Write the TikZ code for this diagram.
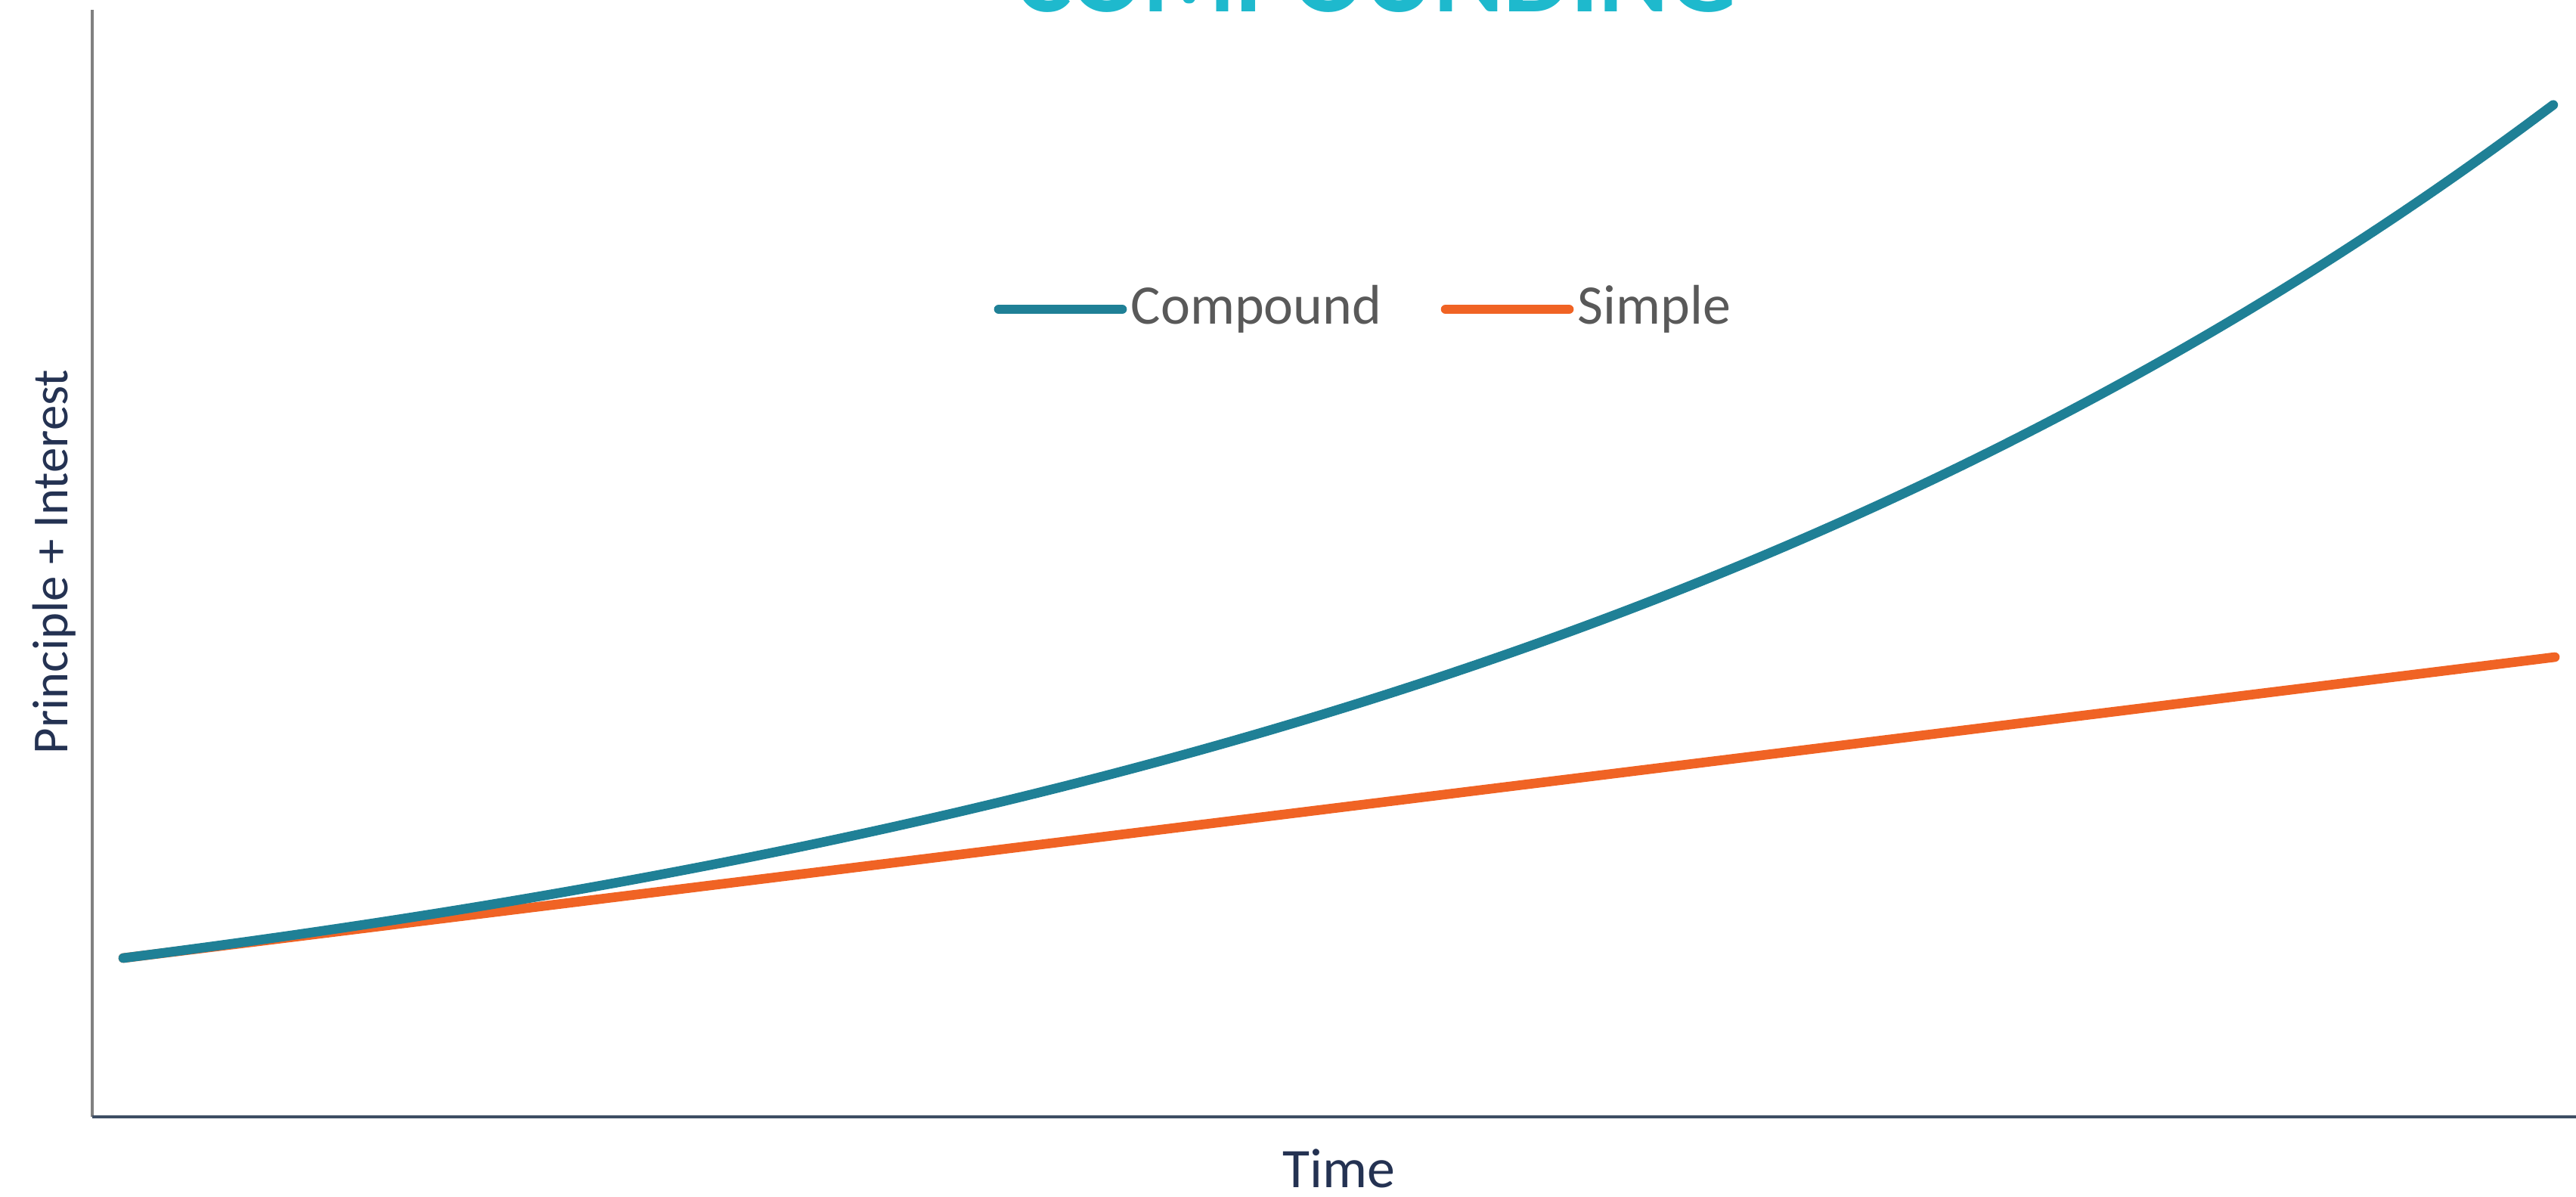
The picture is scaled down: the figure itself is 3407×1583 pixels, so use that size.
\documentclass[tikz,border=0pt]{standalone}
\usepackage{fontspec}
\setmainfont{Carlito}
\definecolor{compteal}{RGB}{31,128,150}
\definecolor{simporange}{RGB}{240,99,36}
\definecolor{titlecyan}{RGB}{30,185,205}
\definecolor{axisgray}{RGB}{128,128,128}
\definecolor{axisnavy}{RGB}{62,78,100}
\definecolor{labelnavy}{RGB}{36,50,82}
\definecolor{legendgray}{RGB}{89,89,89}
\begin{document}
\begin{tikzpicture}[x=0.01cm,y=-0.01cm,
	curve/.style={line width=3.6pt,line cap=round},
	axisline/.style={line width=1.3pt},
	legendtext/.style={anchor=west,inner sep=0pt,text=legendgray,font=\fontsize{21}{21}\selectfont}]
	\useasboundingbox (0,0) rectangle (3407,1583);
	\clip (0,0) rectangle (3407,1583);
	% title, cut off at the top
	\node[anchor=base,text=titlecyan,font=\bfseries\fontsize{40}{40}\selectfont] (title) at (1820,16) {COMPOUNDING};
	% axes
	\coordinate (top) at (122,13);
	\coordinate (origin) at (122,1477);
	\coordinate (right) at (3407,1477);
	\draw[axisline,axisgray] (top)--(origin);
	\draw[axisline,axisnavy] (origin)--(right);
	\node[rotate=90,text=labelnavy,font=\fontsize{19}{19}\selectfont] (ylabel) at (72,743) {Principle + Interest};
	\node[text=labelnavy,font=\fontsize{21}{21}\selectfont] (xlabel) at (1771,1545) {Time};
	% curves
	\coordinate (start) at (163,1267);
	\coordinate (simpend) at (3379,869);
	\draw[curve,simporange] (start)--(simpend);
	\draw[curve,compteal] plot[domain=0:1,samples=80,smooth] ({163+3216*\x},{1267-408*(exp(1.78*\x)-1)/1.78});
	% legend
	\coordinate (lc1) at (1321,409);
	\coordinate (lc2) at (1484,409);
	\draw[curve,compteal] (lc1)--(lc2);
	\node[legendtext] (comp) at (1495,409) {Compound};
	\coordinate (ls1) at (1912,409);
	\coordinate (ls2) at (2075,409);
	\draw[curve,simporange] (ls1)--(ls2);
	\node[legendtext] (simp) at (2086,409) {Simple};
\end{tikzpicture}
\end{document}
